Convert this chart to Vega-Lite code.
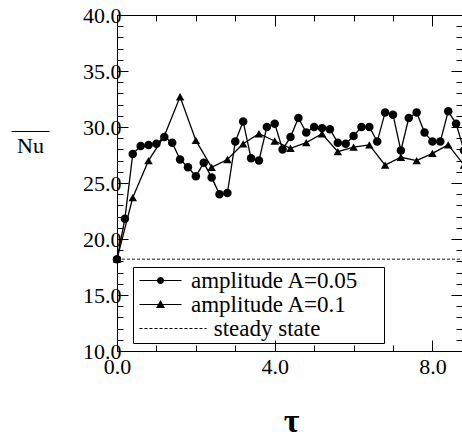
{
  "$schema": "https://vega.github.io/schema/vega-lite/v6.json",
  "width": 345,
  "height": 336,
  "autosize": {"type": "none"},
  "padding": {"left": 117, "top": 15, "right": 0, "bottom": 86},
  "background": "white",
  "config": {
    "view": {"stroke": null},
    "font": "Times New Roman",
    "axis": {"grid": false, "domainColor": "black", "domainWidth": 1, "tickColor": "black", "tickWidth": 1, "labelColor": "black", "labelFont": "Times New Roman", "labelFontSize": 22, "titleColor": "black", "labelFlush": false, "labelOverlap": false, "labelBound": false},
    "legend": {"labelFont": "Times New Roman"}
  },
  "data": {
    "values": [
      {"x": 0.0, "y": 18.2, "series": "amplitude A=0.05"},
      {"x": 0.2, "y": 21.8, "series": "amplitude A=0.05"},
      {"x": 0.4, "y": 27.6, "series": "amplitude A=0.05"},
      {"x": 0.6, "y": 28.3, "series": "amplitude A=0.05"},
      {"x": 0.8, "y": 28.4, "series": "amplitude A=0.05"},
      {"x": 1.0, "y": 28.5, "series": "amplitude A=0.05"},
      {"x": 1.2, "y": 29.1, "series": "amplitude A=0.05"},
      {"x": 1.4, "y": 28.6, "series": "amplitude A=0.05"},
      {"x": 1.6, "y": 27.1, "series": "amplitude A=0.05"},
      {"x": 1.8, "y": 26.4, "series": "amplitude A=0.05"},
      {"x": 2.0, "y": 25.6, "series": "amplitude A=0.05"},
      {"x": 2.2, "y": 26.8, "series": "amplitude A=0.05"},
      {"x": 2.4, "y": 25.5, "series": "amplitude A=0.05"},
      {"x": 2.6, "y": 24.0, "series": "amplitude A=0.05"},
      {"x": 2.8, "y": 24.1, "series": "amplitude A=0.05"},
      {"x": 3.0, "y": 28.7, "series": "amplitude A=0.05"},
      {"x": 3.2, "y": 30.5, "series": "amplitude A=0.05"},
      {"x": 3.4, "y": 27.2, "series": "amplitude A=0.05"},
      {"x": 3.6, "y": 27.0, "series": "amplitude A=0.05"},
      {"x": 3.8, "y": 30.0, "series": "amplitude A=0.05"},
      {"x": 4.0, "y": 30.3, "series": "amplitude A=0.05"},
      {"x": 4.2, "y": 28.0, "series": "amplitude A=0.05"},
      {"x": 4.4, "y": 29.1, "series": "amplitude A=0.05"},
      {"x": 4.6, "y": 30.8, "series": "amplitude A=0.05"},
      {"x": 4.8, "y": 29.5, "series": "amplitude A=0.05"},
      {"x": 5.0, "y": 30.0, "series": "amplitude A=0.05"},
      {"x": 5.2, "y": 29.9, "series": "amplitude A=0.05"},
      {"x": 5.4, "y": 29.8, "series": "amplitude A=0.05"},
      {"x": 5.6, "y": 28.6, "series": "amplitude A=0.05"},
      {"x": 5.8, "y": 28.5, "series": "amplitude A=0.05"},
      {"x": 6.0, "y": 29.2, "series": "amplitude A=0.05"},
      {"x": 6.2, "y": 30.0, "series": "amplitude A=0.05"},
      {"x": 6.4, "y": 30.0, "series": "amplitude A=0.05"},
      {"x": 6.6, "y": 28.7, "series": "amplitude A=0.05"},
      {"x": 6.8, "y": 31.3, "series": "amplitude A=0.05"},
      {"x": 7.0, "y": 31.1, "series": "amplitude A=0.05"},
      {"x": 7.2, "y": 27.9, "series": "amplitude A=0.05"},
      {"x": 7.4, "y": 30.8, "series": "amplitude A=0.05"},
      {"x": 7.6, "y": 31.3, "series": "amplitude A=0.05"},
      {"x": 7.8, "y": 29.5, "series": "amplitude A=0.05"},
      {"x": 8.0, "y": 28.7, "series": "amplitude A=0.05"},
      {"x": 8.2, "y": 28.7, "series": "amplitude A=0.05"},
      {"x": 8.4, "y": 31.4, "series": "amplitude A=0.05"},
      {"x": 8.6, "y": 30.3, "series": "amplitude A=0.05"},
      {"x": 8.8, "y": 27.9, "series": "amplitude A=0.05"},
      {"x": 0.0, "y": 18.2, "series": "amplitude A=0.1"},
      {"x": 0.4, "y": 23.7, "series": "amplitude A=0.1"},
      {"x": 0.8, "y": 27.0, "series": "amplitude A=0.1"},
      {"x": 1.2, "y": 29.2, "series": "amplitude A=0.1"},
      {"x": 1.6, "y": 32.7, "series": "amplitude A=0.1"},
      {"x": 2.0, "y": 28.8, "series": "amplitude A=0.1"},
      {"x": 2.4, "y": 26.4, "series": "amplitude A=0.1"},
      {"x": 2.8, "y": 27.1, "series": "amplitude A=0.1"},
      {"x": 3.2, "y": 28.5, "series": "amplitude A=0.1"},
      {"x": 3.6, "y": 29.4, "series": "amplitude A=0.1"},
      {"x": 4.0, "y": 28.75, "series": "amplitude A=0.1"},
      {"x": 4.4, "y": 28.1, "series": "amplitude A=0.1"},
      {"x": 4.8, "y": 28.6, "series": "amplitude A=0.1"},
      {"x": 5.2, "y": 29.4, "series": "amplitude A=0.1"},
      {"x": 5.6, "y": 27.8, "series": "amplitude A=0.1"},
      {"x": 6.0, "y": 28.2, "series": "amplitude A=0.1"},
      {"x": 6.4, "y": 28.4, "series": "amplitude A=0.1"},
      {"x": 6.8, "y": 26.6, "series": "amplitude A=0.1"},
      {"x": 7.2, "y": 27.3, "series": "amplitude A=0.1"},
      {"x": 7.6, "y": 27.0, "series": "amplitude A=0.1"},
      {"x": 8.0, "y": 27.65, "series": "amplitude A=0.1"},
      {"x": 8.4, "y": 28.4, "series": "amplitude A=0.1"},
      {"x": 8.8, "y": 26.6, "series": "amplitude A=0.1"},
      {"x": 0.0, "y": 18.2, "series": "steady state"},
      {"x": 8.8, "y": 18.2, "series": "steady state"}
    ]
  },
  "layer": [
    {
      "transform": [{"filter": "datum.series !== 'steady state'"}],
      "mark": {"type": "line", "color": "black", "strokeWidth": 1.3, "clip": false},
      "encoding": {
        "x": {"field": "x", "type": "quantitative", "scale": {"domain": [0, 8.75], "nice": false, "zero": false},
          "axis": {"orient": "bottom", "values": [0, 1, 2, 3, 4, 5, 6, 7, 8],
            "labelExpr": "datum.value % 4 === 0 ? format(datum.value, '.1f') : ''",
            "tickSize": {"condition": {"test": "datum.value % 4 === 0", "value": -11}, "value": -6},
            "labelPadding": 16, "labelBaseline": "top", "labelFont": "Times New Roman",
            "title": "τ", "titleFont": "Times New Roman", "titleFontSize": 34, "titleFontWeight": "bold",
            "titleX": 174, "titleY": 80, "titleAlign": "center", "titleBaseline": "alphabetic"}},
        "y": {"field": "y", "type": "quantitative", "scale": {"domain": [10, 40], "nice": false, "zero": false},
          "axis": {"orient": "left", "values": [10, 11, 12, 13, 14, 15, 16, 17, 18, 19, 20, 21, 22, 23, 24, 25, 26, 27, 28, 29, 30, 31, 32, 33, 34, 35, 36, 37, 38, 39, 40],
            "labelExpr": "datum.value % 5 === 0 ? format(datum.value, '.1f') : ''",
            "tickSize": {"condition": {"test": "datum.value % 5 === 0", "value": -11}, "value": -6},
            "labelPadding": 7, "labelFont": "Times New Roman",
            "title": ["‾‾‾‾‾", "Nu"], "titleFont": "Times New Roman", "titleFontSize": 22, "titleFontWeight": "normal",
            "titleAngle": 0, "titleX": -87, "titleY": 132, "titleAlign": "center", "titleBaseline": "alphabetic", "titleLineHeight": 5}},
        "detail": {"field": "series", "type": "nominal"}
      }
    },
    {
      "transform": [{"filter": "datum.series === 'steady state'"}],
      "mark": {"type": "line", "color": "black", "strokeWidth": 0.9, "strokeDash": [3, 2], "clip": false},
      "encoding": {
        "x": {"field": "x", "type": "quantitative", "axis": null},
        "y": {"field": "y", "type": "quantitative", "axis": null}
      }
    },
    {
      "transform": [{"filter": "datum.series === 'amplitude A=0.05'"}],
      "mark": {"type": "point", "shape": "circle", "filled": true, "color": "black", "opacity": 1, "size": 72, "clip": false},
      "encoding": {
        "x": {"field": "x", "type": "quantitative",
          "axis": {"orient": "top", "values": [0, 1, 2, 3, 4, 5, 6, 7, 8], "labels": false, "title": null,
            "tickSize": {"condition": {"test": "datum.value % 4 === 0", "value": -11}, "value": -6}}},
        "y": {"field": "y", "type": "quantitative",
          "axis": {"orient": "right", "values": [10, 11, 12, 13, 14, 15, 16, 17, 18, 19, 20, 21, 22, 23, 24, 25, 26, 27, 28, 29, 30, 31, 32, 33, 34, 35, 36, 37, 38, 39, 40], "labels": false, "title": null,
            "tickSize": {"condition": {"test": "datum.value % 5 === 0", "value": -11}, "value": -6}}}
      }
    },
    {
      "transform": [{"filter": "datum.series === 'amplitude A=0.1'"}],
      "mark": {"type": "point", "shape": "triangle-up", "filled": true, "color": "black", "opacity": 1, "size": 72, "clip": false},
      "encoding": {
        "x": {"field": "x", "type": "quantitative", "axis": null},
        "y": {"field": "y", "type": "quantitative", "axis": null}
      }
    },
    {
      "transform": [{"filter": "datum.x < 0"}],
      "mark": {"type": "point", "filled": true, "color": "black", "strokeWidth": 0, "opacity": 1, "size": 400, "clip": false},
      "encoding": {
        "x": {"field": "x", "type": "quantitative", "axis": null},
        "y": {"field": "y", "type": "quantitative", "axis": null},
        "shape": {"field": "series", "type": "nominal",
          "scale": {"domain": ["amplitude A=0.05\u00a0\u2800", "amplitude A=0.1", "\u2800\u00a0steady state"],
            "range": [
              "M-0.7,-0.06H3.5V0.06H-0.7Z M1.75,0A0.35,0.35 0 1,1 1.05,0A0.35,0.35 0 1,1 1.75,0Z",
              "M-0.7,-0.06H3.5V0.06H-0.7Z M1.4,-0.45L1.85,0.35L0.95,0.35Z",
              "M-0.7,-0.05h0.3v0.1h-0.3Z M-0.2,-0.05h0.3v0.1h-0.3Z M0.3,-0.05h0.3v0.1h-0.3Z M0.8,-0.05h0.3v0.1h-0.3Z M1.3,-0.05h0.3v0.1h-0.3Z M1.8,-0.05h0.3v0.1h-0.3Z M2.3,-0.05h0.3v0.1h-0.3Z M2.8,-0.05h0.3v0.1h-0.3Z M3.3,-0.05h0.3v0.1h-0.3Z M3.8,-0.05h0.3v0.1h-0.3Z M4.3,-0.05h0.3v0.1h-0.3Z M4.8,-0.05h0.3v0.1h-0.3Z M5.3,-0.05h0.3v0.1h-0.3Z M5.8,-0.05h0.2v0.1h-0.2Z"]},
          "legend": {"title": null, "orient": "none", "legendX": 16, "legendY": 252,
            "strokeColor": "black", "padding": 2, "rowPadding": 0,
            "symbolSize": 400, "symbolFillColor": "black", "symbolStrokeWidth": 0,
            "labelFont": "Times New Roman", "labelFontSize": 23, "labelColor": "black", "labelOffset": 33, "labelLimit": 500}}
      }
    }
  ],
  "resolve": {"axis": {"x": "independent", "y": "independent"}}
}
